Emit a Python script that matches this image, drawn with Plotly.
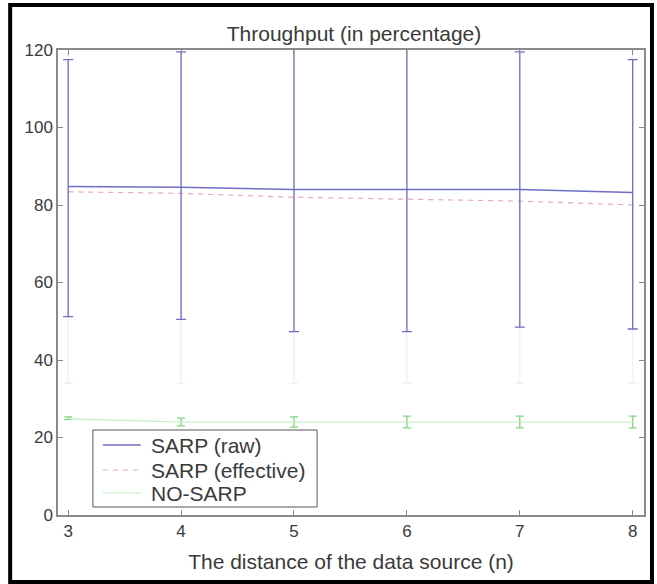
import plotly.graph_objects as go

# ---- data ----
x_vals = [3, 4, 5, 6, 7, 8]
x_ticks = [3, 4, 5, 6, 7, 8]
y_ticks = [0, 20, 40, 60, 80, 100, 120]

raw_mean = [84.8, 84.6, 84.0, 84.0, 84.0, 83.2]
raw_upper = [117.5, 119.5, 123.0, 123.0, 119.5, 117.5]
raw_lower = [51.2, 50.5, 47.3, 47.3, 48.5, 48.0]

eff_mean = [83.4, 83.0, 82.0, 81.5, 81.0, 80.0]
eff_upper = [125.0, 125.0, 125.0, 125.0, 125.0, 125.0]
eff_lower = [34.0, 34.0, 34.0, 34.0, 34.0, 34.0]

nos_mean = [24.8, 24.0, 24.0, 24.0, 24.0, 24.0]
nos_upper = [25.3, 25.0, 25.3, 25.5, 25.5, 25.5]
nos_lower = [24.6, 23.0, 22.7, 22.5, 22.5, 22.5]

names = ["SARP (raw)", "SARP (effective)", "NO-SARP"]

FONT = "Liberation Sans, Arial, sans-serif"
TXT = "#3a3a3a"
AX = "#8a8a8a"

# plot-area geometry in pixels (for paper-coordinate conversion of decorations)
W, H = 657, 584
L, R, T, B = 58, 11, 50, 69
PW, PH = W - L - R, H - T - B


def px(xp):
    return (xp - L) / PW


def py(yp):
    return (H - B - yp) / PH


styles = [
    dict(color="#6e6ec4", width=1.5),
    dict(color="#e8abb3", width=1.2, dash="5px,5px"),
    dict(color="#bdeebd", width=1.2),
]

fig = go.Figure()


def eb(mean, up, lo, color, w):
    return dict(type="data", symmetric=False,
                array=[u - m for u, m in zip(up, mean)],
                arrayminus=[m - l for m, l in zip(mean, lo)],
                color=color, thickness=1.3, width=w)


fig.add_trace(go.Scatter(x=x_vals, y=nos_mean, mode="lines", name=names[2],
                         line=styles[2],
                         error_y=eb(nos_mean, nos_upper, nos_lower, "#7ed67e", 4),
                         showlegend=False))
fig.add_trace(go.Scatter(x=x_vals, y=eff_mean, mode="lines", name=names[1],
                         line=styles[1],
                         error_y=eb(eff_mean, eff_upper, eff_lower, "#f9ecef", 4),
                         showlegend=False))
fig.add_trace(go.Scatter(x=x_vals, y=raw_mean, mode="lines", name=names[0],
                         line=styles[0],
                         error_y=eb(raw_mean, raw_upper, raw_lower, "#6e6ec4", 5),
                         showlegend=False))

axis_common = dict(showline=True, linecolor=AX, linewidth=1.5, mirror="ticks",
                   ticks="inside", ticklen=5, tickcolor=AX, tickwidth=1,
                   showgrid=False, zeroline=False,
                   tickfont=dict(family=FONT, size=17, color=TXT))

fig.update_layout(
    width=W, height=H,
    margin=dict(l=L, r=R, t=T, b=B),
    paper_bgcolor="white", plot_bgcolor="white",
    title=dict(text="Throughput (in percentage)", x=354 / W, xanchor="center",
               xref="container",
               y=1 - 34 / H, yanchor="middle",
               font=dict(family=FONT, size=21, color=TXT)),
    xaxis=dict(range=[2.91, 8.1], tickvals=x_ticks,
               title=dict(text="The distance of the data source (n)",
                          font=dict(family=FONT, size=21, color=TXT), standoff=14),
               **axis_common),
    yaxis=dict(range=[0, 120], tickvals=y_ticks, **axis_common),
    showlegend=False,
)

# legend box (drawn as in the original, with tight rows)
fig.add_shape(type="rect", xref="paper", yref="paper",
              x0=px(93), x1=px(318), y0=py(507), y1=py(430),
              line=dict(color="#555555", width=1), fillcolor="white", layer="above")
row_y = [445, 470, 493]
for name, st, ry in zip(names, styles, row_y):
    fig.add_shape(type="line", xref="paper", yref="paper",
                  x0=px(103), x1=px(141), y0=py(ry), y1=py(ry),
                  line=st, layer="above")
    fig.add_annotation(xref="paper", yref="paper", x=px(149), y=py(ry),
                       xanchor="left", yanchor="middle", showarrow=False,
                       text=name, font=dict(family=FONT, size=21, color=TXT))

# outer black frame of the picture
fig.add_shape(type="rect", xref="paper", yref="paper",
              x0=px(10), x1=px(654), y0=py(582), y1=py(5),
              line=dict(color="black", width=4), fillcolor="rgba(0,0,0,0)",
              layer="above")

fig.write_html("out.html")
